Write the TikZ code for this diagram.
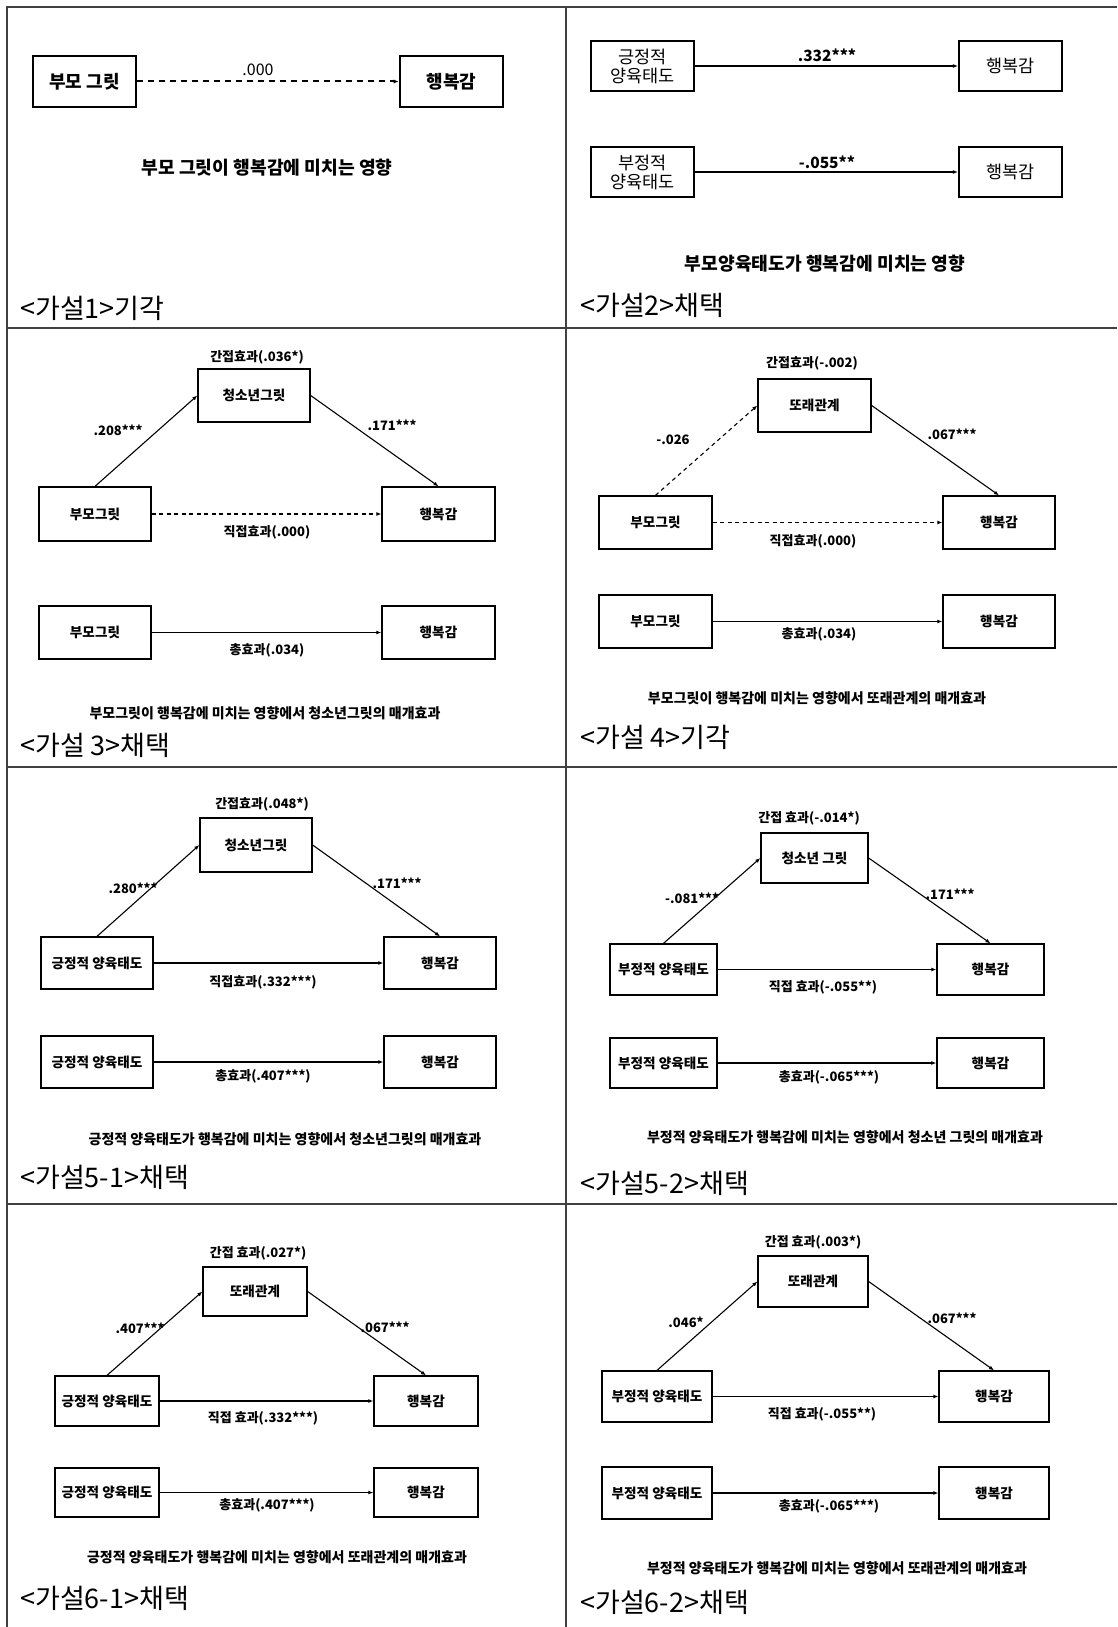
\documentclass[tikz,border=0pt]{standalone}
\usepackage{fontspec}
\usetikzlibrary{arrows.meta}
\newfontfamily\kr{Noto Sans CJK KR}
\tikzset{
  bx/.style={draw, line width=1.3pt, inner sep=0pt, font=\kr\bfseries\fontsize{13.6}{16}\selectfont},
  bxthick/.style={draw, line width=2.6pt, inner sep=0pt, minimum width=103pt, minimum height=51pt, font=\kr\bfseries\fontsize{18}{20}\selectfont},
  bxmid/.style={draw, line width=2.2pt, inner sep=0pt, minimum width=103pt, minimum height=50pt, align=center, font=\kr\fontsize{17.5}{19}\selectfont},
  conn/.style={-{Latex[length=5pt,width=4pt]}, line width=1.1pt},
  dconn/.style={conn, dash pattern=on 4pt off 3.5pt},
  lbl/.style={font=\kr\bfseries\fontsize{13}{15}\selectfont, inner sep=0pt},
  biglbl/.style={font=\kr\bfseries\fontsize{15.5}{17}\selectfont, inner sep=0pt},
  captext/.style={font=\kr\bfseries\fontsize{14}{16}\selectfont, inner sep=0pt},
  bigcaptext/.style={font=\kr\bfseries\fontsize{18.2}{20}\selectfont, inner sep=0pt},
  hyp/.style={font=\kr\fontsize{27}{29}\selectfont, anchor=west, inner sep=0pt},
  gridline/.style={line width=1.5pt, draw=black!75},
}
\begin{document}
\begin{tikzpicture}[x=1pt, y=-1pt]
\useasboundingbox (0,0) rectangle (1117,1627);
\fill[white] (0,0) rectangle (1117,1627);
% grid
\draw[gridline] (7,1627) -- (7,7) -- (1117,7);
\draw[gridline] (566,7) -- (566,1627);
\draw[gridline] (7,328) -- (1117,328);
\draw[gridline] (7,767) -- (1117,767);
\draw[gridline] (7,1204) -- (1117,1204);

% ---------- Cell 1 ----------
\node[bxthick] (a1) at (84.5,81.5) {부모 그릿};
\node[bxthick] (b1) at (451.5,81.5) {행복감};
\draw[conn, line width=2pt, dash pattern=on 6pt off 5pt] (a1) -- (b1);
\node[font=\kr\fontsize{16}{18}\selectfont, inner sep=0pt] (l1) at (258,70) {.000};
\node[bigcaptext] (c1) at (267,168) {부모 그릿이 행복감에 미치는 영향};
\node[hyp] (h1) at (20,308) {<가설1>기각};

% ---------- Cell 2 ----------
\node[bxmid] (a2) at (642.5,66) {긍정적\\양육태도};
\node[bxmid] (b2) at (1010.5,66) {행복감};
\draw[conn] (a2) -- (b2);
\node[biglbl] (l2) at (827,55) {.332***};
\node[bxmid] (a2n) at (642.5,172) {부정적\\양육태도};
\node[bxmid] (b2n) at (1010.5,172) {행복감};
\draw[conn] (a2n) -- (b2n);
\node[biglbl] (l2n) at (827,162) {-.055**};
\node[bigcaptext] (c2) at (825,264) {부모양육태도가 행복감에 미치는 영향};
\node[hyp] (h2) at (580,305) {<가설2>채택};

% ---------- Cell 3 ----------
\node[lbl] (i3) at (257,357) {간접효과(.036*)};
\node[bx, minimum width=112pt, minimum height=53pt] (m3) at (254,395.5) {청소년그릿};
\node[bx, minimum width=112pt, minimum height=54pt] (x3) at (95,514) {부모그릿};
\node[bx, minimum width=113pt, minimum height=54pt] (y3) at (438.5,514) {행복감};
\draw[conn] (x3.north) -- (m3.west);
\draw[conn] (m3.east) -- (y3.north);
\node[lbl] (p3) at (118,430) {.208***};
\node[lbl] (q3) at (392,425) {.171***};
\draw[dconn] (x3) -- (y3);
\node[lbl] (d3) at (267,532) {직접효과(.000)};
\node[bx, minimum width=112pt, minimum height=53pt] (x3b) at (95,632.5) {부모그릿};
\node[bx, minimum width=113pt, minimum height=53pt] (y3b) at (438.5,632.5) {행복감};
\draw[conn] (x3b) -- (y3b);
\node[lbl] (t3) at (267,650) {총효과(.034)};
\node[captext] (c3) at (265,713) {부모그릿이 행복감에 미치는 영향에서 청소년그릿의 매개효과};
\node[hyp] (h3) at (20,745) {<가설 3>채택};

% ---------- Cell 4 ----------
\node[lbl] (i4) at (812,363) {간접효과(-.002)};
\node[bx, minimum width=113pt, minimum height=53pt] (m4) at (814.5,405.5) {또래관계};
\node[bx, minimum width=113pt, minimum height=53pt] (x4) at (655.5,522.5) {부모그릿};
\node[bx, minimum width=112pt, minimum height=53pt] (y4) at (999,522.5) {행복감};
\draw[dconn] (x4.north) -- (m4.west);
\draw[conn] (m4.east) -- (y4.north);
\node[lbl] (p4) at (673,440) {-.026};
\node[lbl] (q4) at (952,434) {.067***};
\draw[dconn] (x4) -- (y4);
\node[lbl] (d4) at (813,541) {직접효과(.000)};
\node[bx, minimum width=113pt, minimum height=53pt] (x4b) at (655.5,621.5) {부모그릿};
\node[bx, minimum width=112pt, minimum height=53pt] (y4b) at (999,621.5) {행복감};
\draw[conn] (x4b) -- (y4b);
\node[lbl] (t4) at (819,634) {총효과(.034)};
\node[captext] (c4) at (817,698) {부모그릿이 행복감에 미치는 영향에서 또래관계의 매개효과};
\node[hyp] (h4) at (580,737) {<가설 4>기각};

% ---------- Cell 5 ----------
\node[lbl] (i5) at (262,804) {간접효과(.048*)};
\node[bx, minimum width=112pt, minimum height=54pt] (m5) at (256,845) {청소년그릿};
\node[bx, minimum width=112pt, minimum height=52pt] (x5) at (97,963) {긍정적 양육태도};
\node[bx, minimum width=112pt, minimum height=52pt] (y5) at (440,963) {행복감};
\draw[conn] (x5.north) -- (m5.west);
\draw[conn] (m5.east) -- (y5.north);
\node[lbl] (p5) at (133,888) {.280***};
\node[lbl] (q5) at (397,883) {.171***};
\draw[conn] (x5) -- (y5);
\node[lbl] (d5) at (263,982) {직접효과(.332***)};
\node[bx, minimum width=112pt, minimum height=52pt] (x5b) at (97,1062) {긍정적 양육태도};
\node[bx, minimum width=112pt, minimum height=52pt] (y5b) at (440,1062) {행복감};
\draw[conn] (x5b) -- (y5b);
\node[lbl] (t5) at (263,1076) {총효과(.407***)};
\node[captext] (c5) at (285,1139) {긍정적 양육태도가 행복감에 미치는 영향에서 청소년그릿의 매개효과};
\node[hyp] (h5) at (20,1177) {<가설5-1>채택};

% ---------- Cell 6 ----------
\node[lbl] (i6) at (809,818) {간접 효과(-.014*)};
\node[bx, minimum width=107pt, minimum height=50pt] (m6) at (814.5,858) {청소년 그릿};
\node[bx, minimum width=107pt, minimum height=51pt] (x6) at (663.5,969.5) {부정적 양육태도};
\node[bx, minimum width=107pt, minimum height=51pt] (y6) at (990.5,969.5) {행복감};
\draw[conn] (x6.north) -- (m6.west);
\draw[conn] (m6.east) -- (y6.north);
\node[lbl] (p6) at (692,898) {-.081***};
\node[lbl] (q6) at (950,894) {.171***};
\draw[conn] (x6) -- (y6);
\node[lbl] (d6) at (823,987) {직접 효과(-.055**)};
\node[bx, minimum width=107pt, minimum height=50pt] (x6b) at (663.5,1063) {부정적 양육태도};
\node[bx, minimum width=107pt, minimum height=50pt] (y6b) at (990.5,1063) {행복감};
\draw[conn] (x6b) -- (y6b);
\node[lbl] (t6) at (829,1077) {총효과(-.065***)};
\node[captext] (c6) at (845,1137) {부정적 양육태도가 행복감에 미치는 영향에서 청소년 그릿의 매개효과};
\node[hyp] (h6) at (580,1183) {<가설5-2>채택};

% ---------- Cell 7 ----------
\node[lbl] (i7) at (258,1253) {간접 효과(.027*)};
\node[bx, minimum width=104pt, minimum height=49pt] (m7) at (255,1291.5) {또래관계};
\node[bx, minimum width=104pt, minimum height=50pt] (x7) at (107,1401) {긍정적 양육태도};
\node[bx, minimum width=104pt, minimum height=50pt] (y7) at (426,1401) {행복감};
\draw[conn] (x7.north) -- (m7.west);
\draw[conn] (m7.east) -- (y7.north);
\node[lbl] (p7) at (140,1328) {.407***};
\node[lbl] (q7) at (385,1327) {.067***};
\draw[conn] (x7) -- (y7);
\node[lbl] (d7) at (263,1418) {직접 효과(.332***)};
\node[bx, minimum width=104pt, minimum height=49pt] (x7b) at (107,1492.5) {긍정적 양육태도};
\node[bx, minimum width=104pt, minimum height=49pt] (y7b) at (426,1492.5) {행복감};
\draw[conn] (x7b) -- (y7b);
\node[lbl] (t7) at (267,1505) {총효과(.407***)};
\node[captext] (c7) at (277,1557) {긍정적 양육태도가 행복감에 미치는 영향에서 또래관계의 매개효과};
\node[hyp] (h7) at (20,1598) {<가설6-1>채택};

% ---------- Cell 8 ----------
\node[lbl] (i8) at (813,1242) {간접 효과(.003*)};
\node[bx, minimum width=110pt, minimum height=51pt] (m8) at (813,1281.5) {또래관계};
\node[bx, minimum width=110pt, minimum height=51pt] (x8) at (657,1396.5) {부정적 양육태도};
\node[bx, minimum width=110pt, minimum height=51pt] (y8) at (994,1396.5) {행복감};
\draw[conn] (x8.north) -- (m8.west);
\draw[conn] (m8.east) -- (y8.north);
\node[lbl] (p8) at (686,1322) {.046*};
\node[lbl] (q8) at (952,1318) {.067***};
\draw[conn] (x8) -- (y8);
\node[lbl] (d8) at (822,1414) {직접 효과(-.055**)};
\node[bx, minimum width=110pt, minimum height=52pt] (x8b) at (657,1493) {부정적 양육태도};
\node[bx, minimum width=110pt, minimum height=52pt] (y8b) at (994,1493) {행복감};
\draw[conn] (x8b) -- (y8b);
\node[lbl] (t8) at (829,1506) {총효과(-.065***)};
\node[captext] (c8) at (837,1568) {부정적 양육태도가 행복감에 미치는 영향에서 또래관계의 매개효과};
\node[hyp] (h8) at (580,1602) {<가설6-2>채택};
\end{tikzpicture}
\end{document}
